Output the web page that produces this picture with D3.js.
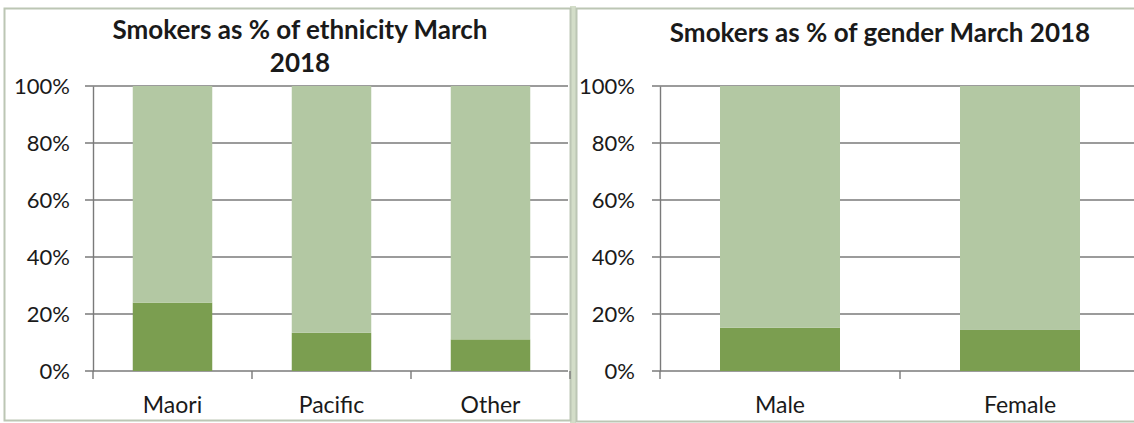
<!DOCTYPE html>
<html>
<head>
<meta charset="utf-8">
<script src="https://cdn.jsdelivr.net/npm/d3@7"></script>
<style>
  html, body { margin: 0; padding: 0; background: #ffffff; }
  svg { display: block; }
  text { font-family: Lato, "Open Sans", "Liberation Sans", sans-serif; fill: #1a1a1a; }
</style>
</head>
<body>
<svg id="chart" width="1134" height="423"></svg>
<script>
// Smokers by ethnicity (percent of each group)
const ethnicCategories = ["Maori", "Pacific", "Other"];
const ethnicSmokers = [24, 13.4, 11.1];
const ethnicNonSmokers = [76, 86.6, 88.9];

// Smokers by gender (percent of each group)
const genderCategories = ["Male", "Female"];
const genderSmokers = [15.2, 14.4];
const genderNonSmokers = [84.8, 85.6];

const yTickValues = [0, 20, 40, 60, 80, 100];
const yTickLabels = ["0%", "20%", "40%", "60%", "80%", "100%"];

const svg = d3.select("#chart");

const smokerColor = "#7b9e50";
const nonSmokerColor = "#b3c8a3";
const gridColor = "#7a7a7a";

// panel frames and the green strip between them
svg.append("rect").attr("x", 570).attr("y", 6).attr("width", 6).attr("height", 417).attr("fill", "#d3ddc8");
svg.append("rect").attr("x", 4.5).attr("y", 8.5).attr("width", 566).attr("height", 412)
  .attr("fill", "#ffffff").attr("stroke", "#bcc6b4").attr("stroke-width", 2);
svg.append("rect").attr("x", 576.5).attr("y", 8.5).attr("width", 560).attr("height", 413)
  .attr("fill", "#ffffff").attr("stroke", "#bcc6b4").attr("stroke-width", 2);

function drawPanel(opts) {
  const g = svg.append("g");
  const x = d3.scaleBand().domain(opts.categories).range(opts.xRange).paddingInner(0).paddingOuter(0);
  const y = d3.scaleLinear().domain([0, 100]).range([371, 86]);

  const rows = opts.categories.map((c, i) => ({ cat: c, smokers: opts.smokers[i], non: opts.non[i] }));
  const stack = d3.stack().keys(["smokers", "non"]);
  const series = stack(rows);
  const colors = { smokers: smokerColor, non: nonSmokerColor };

  // horizontal gridlines with outer ticks
  g.append("g").selectAll("line").data(yTickValues).join("line")
    .attr("x1", opts.xRange[0] - 8).attr("x2", opts.gridEnd)
    .attr("y1", d => y(d)).attr("y2", d => y(d))
    .attr("stroke", gridColor).attr("stroke-width", 1.4);

  // stacked bars, half the band wide
  const barW = x.bandwidth() * 0.5;
  g.append("g").selectAll("g").data(series).join("g")
    .attr("fill", d => colors[d.key])
    .selectAll("rect").data(d => d).join("rect")
    .attr("x", d => x(d.data.cat) + (x.bandwidth() - barW) / 2)
    .attr("width", barW)
    .attr("y", d => y(d[1]))
    .attr("height", d => y(d[0]) - y(d[1]));

  // y axis
  const yAxis = d3.axisLeft(y).tickValues(yTickValues)
    .tickFormat((d, i) => yTickLabels[i]).tickSize(0).tickPadding(opts.labelPad);
  const ya = g.append("g").attr("transform", `translate(${opts.xRange[0]},0)`).call(yAxis);
  ya.select(".domain").attr("stroke", gridColor).attr("stroke-width", 1.4);
  ya.selectAll("text").style("font-size", "22px").attr("fill", "#1a1a1a")
    .style("font-family", "Lato, 'Open Sans', sans-serif");

  // category tick marks at band edges
  const edges = opts.categories.map(c => x(c)).concat([opts.xRange[1]]);
  g.append("g").selectAll("line").data(edges).join("line")
    .attr("x1", d => d).attr("x2", d => d)
    .attr("y1", y(0)).attr("y2", y(0) + 8)
    .attr("stroke", gridColor).attr("stroke-width", 1.4);

  // category labels
  g.append("g").selectAll("text").data(opts.categories).join("text")
    .attr("x", d => x(d) + x.bandwidth() / 2)
    .attr("y", 413)
    .attr("text-anchor", "middle")
    .style("font-size", "23px")
    .text(d => d);

  // title
  const t = g.append("text").attr("text-anchor", "middle")
    .style("font-size", "26px").style("font-weight", "bold");
  opts.title.forEach((line, i) => {
    t.append("tspan").attr("x", opts.titleX).attr("y", opts.titleY + i * 33).text(line);
  });
}

drawPanel({
  categories: ethnicCategories,
  smokers: ethnicSmokers,
  non: ethnicNonSmokers,
  xRange: [93, 570],
  gridEnd: 568,
  labelPad: 23,
  titleX: 300,
  titleY: 39,
  title: ["Smokers as % of ethnicity March", "2018"]
});

drawPanel({
  categories: genderCategories,
  smokers: genderSmokers,
  non: genderNonSmokers,
  xRange: [660, 1140],
  gridEnd: 1134,
  labelPad: 25,
  titleX: 880,
  titleY: 42,
  title: ["Smokers as % of gender March 2018"]
});
</script>
</body>
</html>
